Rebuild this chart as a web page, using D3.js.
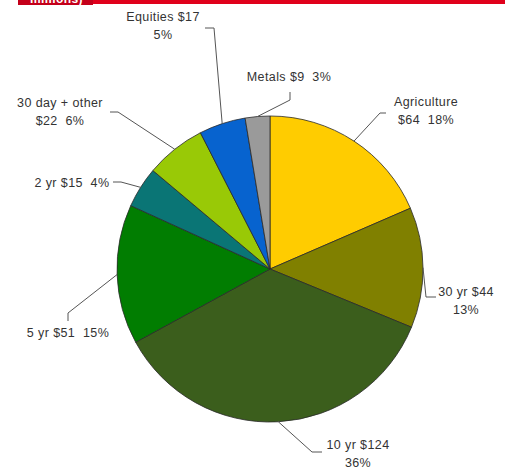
<!DOCTYPE html>
<html>
<head>
<meta charset="utf-8">
<script src="https://cdn.jsdelivr.net/npm/d3@7"></script>
<style>
  html, body { margin: 0; padding: 0; background: #fff; }
  svg { display: block; }
  text { font-family: "Liberation Sans", Arial, sans-serif; font-size: 12.5px; letter-spacing: 0.4px; fill: #333; white-space: pre; }
</style>
</head>
<body>
<svg id="chart" width="505" height="470"></svg>
<script>
// Open interest by contract group ($ millions)
const categories = ["Agriculture", "30 yr", "10 yr", "5 yr", "2 yr", "30 day + other", "Equities", "Metals"];
const values     = [64, 44, 124, 51, 15, 22, 17, 9];
const percents   = [18, 13, 36, 15, 4, 6, 5, 3];
const colors     = ["#ffcc00", "#808000", "#3b5e1c", "#017d01", "#0a7575", "#99c906", "#0763cf", "#9a9a9a"];

// Label text lines per slice
const labelLines = [
  ["Agriculture", "$64  18%"],
  ["30 yr $44", "13%"],
  ["10 yr $124", "36%"],
  ["5 yr $51  15%"],
  ["2 yr $15  4%"],
  ["30 day + other", "$22  6%"],
  ["Equities $17", "5%"],
  ["Metals $9  3%"]
];

// Label placement: text anchor point (x, first baseline) and leader elbow points
const labelLayout = [
  { x: 426, y: 106, elbow: [[380, 113], [386, 113]] },
  { x: 466, y: 296, elbow: [[426, 297], [436, 297]] },
  { x: 358, y: 449, elbow: [[312, 452], [322, 452]] },
  { x: 68,  y: 337, elbow: [[68, 313], [68, 321]] },
  { x: 72,  y: 187, elbow: [[121, 182], [113, 182]] },
  { x: 60,  y: 107, elbow: [[118, 112], [110, 112]] },
  { x: 163, y: 21,  elbow: [[214, 28], [205, 28]] },
  { x: 289, y: 81,  elbow: [[290, 100], [290, 92]] }
];

const svg = d3.select("#chart");
const cx = 270, cy = 269, r = 153;

// Header strip
svg.append("rect").attr("x", 18).attr("y", 0).attr("width", 487).attr("height", 4).attr("fill", "#e0001b");
svg.append("rect").attr("x", 18).attr("y", 0).attr("width", 75).attr("height", 5).attr("fill", "#c4001a");
svg.append("defs").append("clipPath").attr("id", "hdr")
  .append("rect").attr("x", 18).attr("y", 0).attr("width", 75).attr("height", 5);
svg.append("text").attr("x", 30).attr("y", 3)
  .attr("clip-path", "url(#hdr)")
  .style("fill", "#fff").style("font-weight", "bold").style("font-size", "12px")
  .text("millions)");

const data = categories.map((c, i) => ({ name: c, value: values[i], i }));

const pie = d3.pie().value(d => d.value).sort(null);
const arcs = pie(data);
const arc = d3.arc().innerRadius(0).outerRadius(r);

const g = svg.append("g").attr("transform", `translate(${cx},${cy})`);

g.selectAll("path.slice")
  .data(arcs)
  .join("path")
  .attr("class", "slice")
  .attr("d", arc)
  .attr("fill", d => colors[d.data.i])
  .attr("stroke", "#2a2a2a")
  .attr("stroke-width", 0.8)
  .attr("stroke-linejoin", "round");

// Leader lines: start on the rim at each slice's mid angle
const leaders = svg.append("g");
arcs.forEach((a, i) => {
  const mid = (a.startAngle + a.endAngle) / 2;
  const px = cx + r * Math.sin(mid);
  const py = cy - r * Math.cos(mid);
  const pts = [[px, py], ...labelLayout[i].elbow];
  leaders.append("path")
    .attr("d", d3.line()(pts))
    .attr("fill", "none")
    .attr("stroke", "#555")
    .attr("stroke-width", 1);
});

// Labels
const labels = svg.append("g");
labelLines.forEach((lines, i) => {
  const L = labelLayout[i];
  const t = labels.append("text")
    .attr("x", L.x).attr("y", L.y)
    .attr("text-anchor", "middle");
  lines.forEach((s, k) => {
    t.append("tspan").attr("x", L.x).attr("dy", k === 0 ? 0 : 18).text(s);
  });
});
</script>
</body>
</html>
